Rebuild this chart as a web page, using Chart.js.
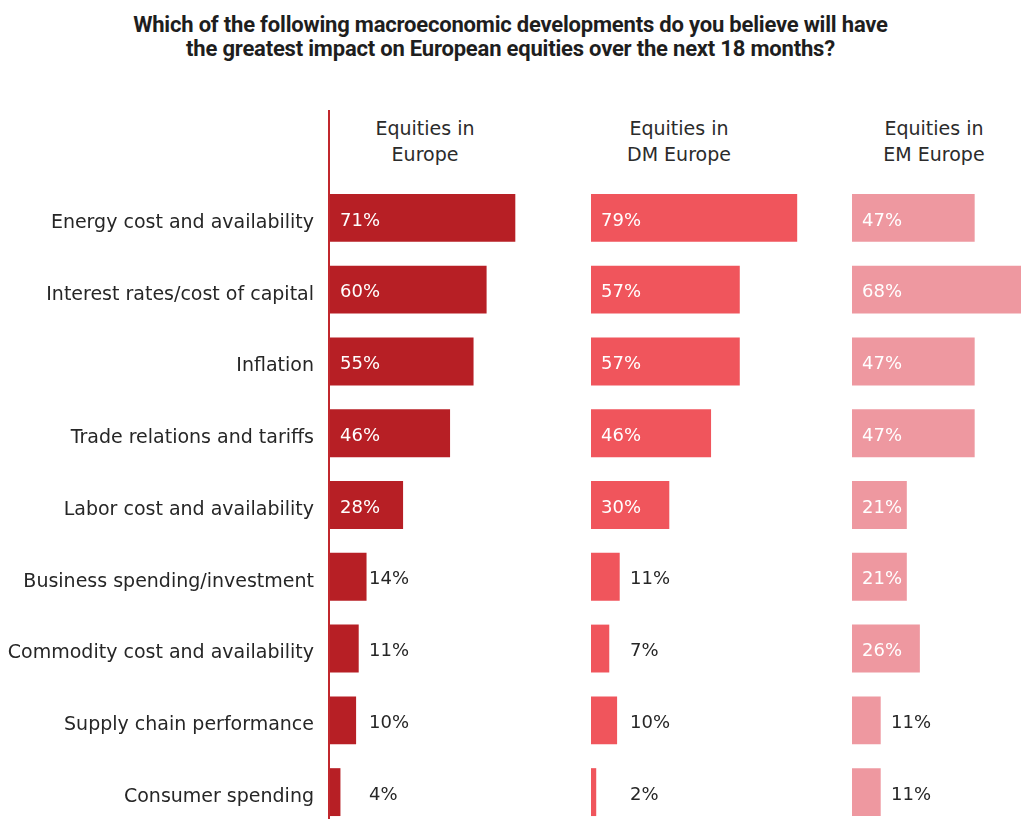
<!DOCTYPE html>
<html>
<head>
<meta charset="utf-8">
<script src="https://cdn.jsdelivr.net/npm/chart.js@4/dist/chart.umd.min.js"></script>
<style>
  html, body { margin: 0; padding: 0; width: 1021px; height: 819px; overflow: hidden; background: #fff; }
  .title {
    position: absolute; left: 0; top: 13px; width: 1021px; text-align: center;
    font-family: Roboto, sans-serif; font-weight: 700; font-size: 22px; line-height: 24px; color: #1e1e1e;
    letter-spacing: -0.2px;
  }
  .col-head {
    position: absolute; top: 115px; width: 200px; text-align: center;
    font-family: "DejaVu Sans", sans-serif; font-size: 19px; line-height: 26px; color: #2b2b2b;
  }
  .panel { position: absolute; top: 110px; }
</style>
</head>
<body>
<div class="title">Which of the following macroeconomic developments do you believe will have<br>the greatest impact on European equities over the next 18 months?</div>

<div class="col-head" style="left:325px">Equities in<br>Europe</div>
<div class="col-head" style="left:579px">Equities in<br>DM Europe</div>
<div class="col-head" style="left:834px">Equities in<br>EM Europe</div>

<div class="panel" style="left:0"><canvas id="chartEurope" width="591" height="718"></canvas></div>
<div class="panel" style="left:591px"><canvas id="chartDM" width="261" height="718"></canvas></div>
<div class="panel" style="left:852px"><canvas id="chartEM" width="261" height="718"></canvas></div>

<script>
const categories = [
  'Energy cost and availability',
  'Interest rates/cost of capital',
  'Inflation',
  'Trade relations and tariffs',
  'Labor cost and availability',
  'Business spending/investment',
  'Commodity cost and availability',
  'Supply chain performance',
  'Consumer spending'
];

const europeValues = [71, 60, 55, 46, 28, 14, 11, 10, 4];
const dmEuropeValues = [79, 57, 57, 46, 30, 11, 7, 10, 2];
const emEuropeValues = [47, 68, 47, 47, 21, 21, 26, 11, 11];

const FONT = '"DejaVu Sans", sans-serif';

// percent labels: white inside long bars, dark just right of short ones
const valueLabels = {
  id: 'valueLabels',
  afterDatasetsDraw(chart) {
    const ctx = chart.ctx;
    const meta = chart.getDatasetMeta(0);
    const values = chart.data.datasets[0].data;
    ctx.save();
    ctx.font = '18px ' + FONT;
    ctx.textBaseline = 'middle';
    ctx.textAlign = 'left';
    meta.data.forEach((bar, i) => {
      const v = values[i];
      const inside = v >= 20;
      ctx.fillStyle = inside ? '#ffffff' : '#262626';
      ctx.fillText(v + '%', bar.base + (inside ? 10 : 39), bar.y + 3);
    });
    ctx.restore();
  }
};

// red rule down the left side of the first panel
const axisRule = {
  id: 'axisRule',
  beforeDatasetsDraw(chart) {
    const ctx = chart.ctx;
    const x = chart.chartArea.left - 1;
    ctx.save();
    ctx.strokeStyle = '#c1272d';
    ctx.lineWidth = 2;
    ctx.beginPath();
    ctx.moveTo(x, 0);
    ctx.lineTo(x, chart.height);
    ctx.stroke();
    ctx.restore();
  }
};

function makePanel(canvasId, values, color, showLabels) {
  const plugins = [valueLabels];
  if (showLabels) plugins.push(axisRule);

  const yScale = {
    display: showLabels,
    grid: { display: false, drawTicks: false },
    border: { display: false },
    ticks: {
      padding: 16,
      labelOffset: 5,
      color: '#262626',
      font: { family: FONT, size: 19 }
    }
  };
  if (showLabels) {
    // fixed label column, and no extra room for the end labels
    yScale.afterFit = (scale) => {
      scale.width = 330;
      scale.paddingTop = 0;
      scale.paddingBottom = 0;
    };
  }

  return new Chart(document.getElementById(canvasId), {
    type: 'bar',
    data: {
      labels: categories,
      datasets: [{
        data: values,
        backgroundColor: color,
        borderWidth: 0,
        categoryPercentage: 1,
        barPercentage: 0.667
      }]
    },
    plugins: plugins,
    options: {
      indexAxis: 'y',
      responsive: false,
      animation: false,
      layout: {
        padding: { top: 72, bottom: 0, left: 0, right: 0 }
      },
      plugins: {
        legend: { display: false },
        tooltip: { enabled: false },
        title: { display: false }
      },
      scales: {
        x: { display: false, min: 0, max: 100 },
        y: yScale
      }
    }
  });
}

makePanel('chartEurope', europeValues, '#b71f25', true);
makePanel('chartDM', dmEuropeValues, '#f0555c', false);
makePanel('chartEM', emEuropeValues, '#ee98a0', false);
</script>
</body>
</html>
